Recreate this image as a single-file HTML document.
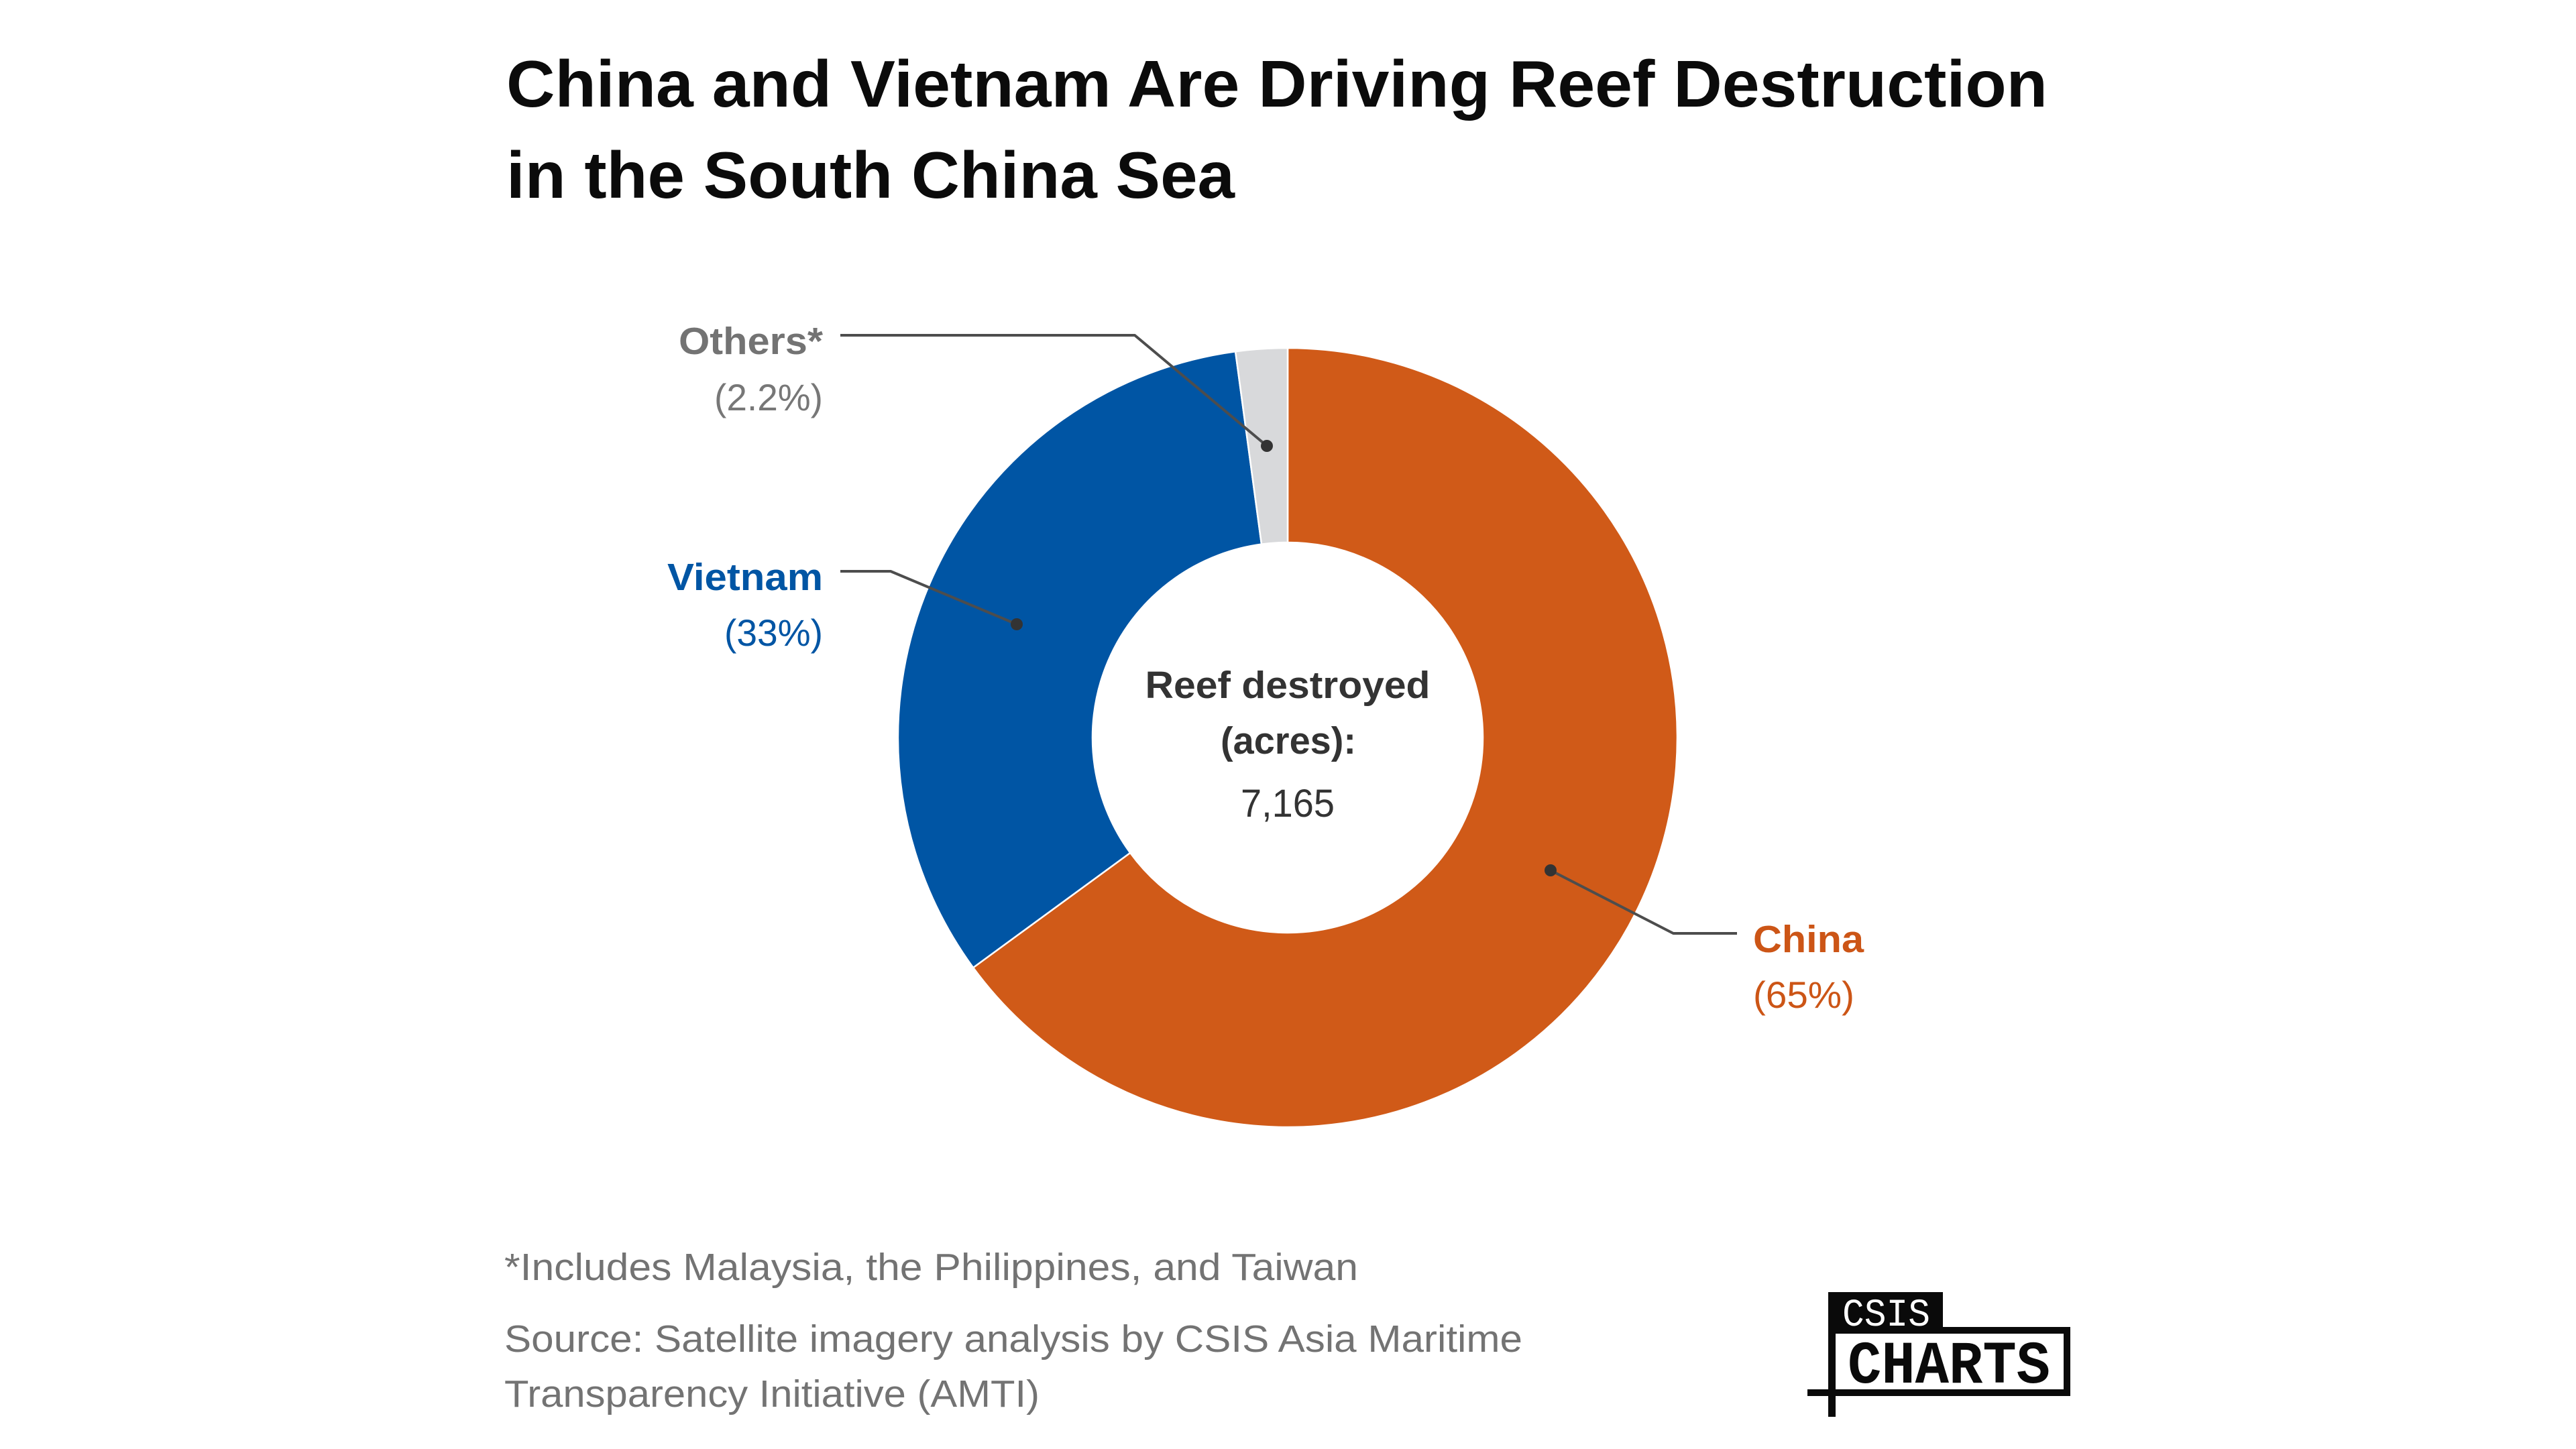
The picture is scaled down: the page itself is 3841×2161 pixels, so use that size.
<!DOCTYPE html>
<html>
<head>
<meta charset="utf-8">
<style>
  html, body { margin: 0; padding: 0; background: #ffffff; }
  svg { display: block; }
  text { font-family: "Liberation Sans", "DejaVu Sans", sans-serif; }
  .mono { font-family: "Liberation Mono", "DejaVu Sans Mono", monospace; }
</style>
</head>
<body>
<svg width="3841" height="2161" viewBox="0 0 3841 2161" xmlns="http://www.w3.org/2000/svg">
  <rect x="0" y="0" width="3841" height="2161" fill="#ffffff"/>

  <!-- Title -->
  <text x="755" y="159" font-size="98" font-weight="bold" fill="#0b0b0b" textLength="2298" lengthAdjust="spacingAndGlyphs">China and Vietnam Are Driving Reef Destruction</text>
  <text x="755" y="295" font-size="98" font-weight="bold" fill="#0b0b0b" textLength="1086" lengthAdjust="spacingAndGlyphs">in the South China Sea</text>

  <!-- Donut -->
  <g stroke="#ffffff" stroke-width="2.5" stroke-linejoin="round">
    <path d="M 1920 519 A 581 581 0 1 1 1451.1 1443.1 L 1685.2 1271.9 A 291 291 0 1 0 1920 809 Z" fill="#D05A18"/>
    <path d="M 1451.1 1443.1 A 581 581 0 0 1 1842.1 524.2 L 1881.0 811.6 A 291 291 0 0 0 1685.2 1271.9 Z" fill="#0055A4"/>
    <path d="M 1842.1 524.2 A 581 581 0 0 1 1920 519 L 1920 809 A 291 291 0 0 0 1881.0 811.6 Z" fill="#D8D9DB"/>
  </g>

  <!-- Leader lines -->
  <g fill="none" stroke="#4d4d4d" stroke-width="4" stroke-linejoin="round">
    <polyline points="1253,500 1692,500 1889,665"/>
    <polyline points="1253,852 1328,852 1516,931"/>
    <polyline points="2590,1392 2495,1392 2312,1298"/>
  </g>
  <g fill="#333333">
    <circle cx="1889" cy="665" r="9"/>
    <circle cx="1516" cy="931" r="9"/>
    <circle cx="2312" cy="1298" r="9"/>
  </g>

  <!-- Labels -->
  <text x="1227" y="528" font-size="57" font-weight="bold" fill="#737373" text-anchor="end" textLength="215" lengthAdjust="spacingAndGlyphs">Others*</text>
  <text x="1227" y="612" font-size="56" fill="#777777" text-anchor="end" textLength="162" lengthAdjust="spacingAndGlyphs">(2.2%)</text>

  <text x="1227" y="880" font-size="57" font-weight="bold" fill="#0055A4" text-anchor="end" textLength="232" lengthAdjust="spacingAndGlyphs">Vietnam</text>
  <text x="1227" y="963" font-size="56" fill="#0055A4" text-anchor="end" textLength="147" lengthAdjust="spacingAndGlyphs">(33%)</text>

  <text x="2614" y="1420" font-size="57" font-weight="bold" fill="#CC5516" textLength="165" lengthAdjust="spacingAndGlyphs">China</text>
  <text x="2614" y="1503" font-size="56" fill="#CC5516" textLength="151" lengthAdjust="spacingAndGlyphs">(65%)</text>

  <!-- Center text -->
  <text x="1920" y="1041" font-size="57" font-weight="bold" fill="#333333" text-anchor="middle" textLength="425" lengthAdjust="spacingAndGlyphs">Reef destroyed</text>
  <text x="1921" y="1124" font-size="57" font-weight="bold" fill="#333333" text-anchor="middle" textLength="202" lengthAdjust="spacingAndGlyphs">(acres):</text>
  <text x="1920" y="1218" font-size="58" fill="#333333" text-anchor="middle" textLength="140" lengthAdjust="spacingAndGlyphs">7,165</text>

  <!-- Footer -->
  <text x="752" y="1909" font-size="57" fill="#737373" textLength="1273" lengthAdjust="spacingAndGlyphs">*Includes Malaysia, the Philippines, and Taiwan</text>
  <text x="752" y="2016" font-size="57" fill="#737373" textLength="1518" lengthAdjust="spacingAndGlyphs">Source: Satellite imagery analysis by CSIS Asia Maritime</text>
  <text x="752" y="2098" font-size="57" fill="#737373" textLength="798" lengthAdjust="spacingAndGlyphs">Transparency Initiative (AMTI)</text>

  <!-- CSIS CHARTS logo -->
  <g fill="#0a0a0a">
    <rect x="2726" y="1927" width="171" height="58"/>
    <rect x="2726" y="1979" width="361" height="10"/>
    <rect x="2726" y="2072" width="361" height="10"/>
    <rect x="2726" y="1927" width="11" height="186"/>
    <rect x="3077" y="1979" width="10" height="103"/>
    <rect x="2695" y="2072" width="42" height="10"/>
  </g>
  <text class="mono" x="2747" y="1977" font-size="58" fill="#ffffff" textLength="131" lengthAdjust="spacingAndGlyphs">CSIS</text>
  <text class="mono" x="2755" y="2062" font-size="90" font-weight="bold" fill="#0a0a0a" textLength="302" lengthAdjust="spacingAndGlyphs">CHARTS</text>
</svg>
</body>
</html>
